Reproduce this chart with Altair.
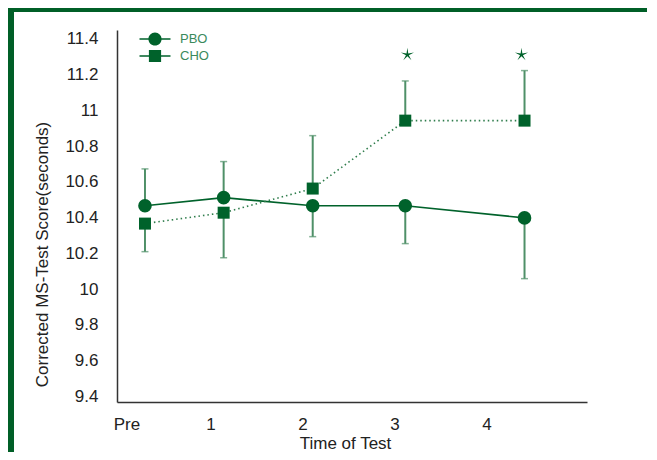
import math
import altair as alt
import pandas as pd

# ---- data ----
time_labels = ["Pre", "1", "2", "3", "4"]
label_pos = [0.087, 1, 2, 3, 4]
time_pos = [0.288, 1.143, 2.111, 3.117, 4.413]
pbo_mean = [10.467, 10.512, 10.467, 10.467, 10.399]
cho_mean = [10.367, 10.428, 10.563, 10.943, 10.943]
pbo_bar_end = [10.673, 10.714, 10.294, 10.255, 10.059]
cho_bar_end = [10.210, 10.176, 10.859, 11.165, 11.223]
star_pos = [3.14, 4.38]
star_val = [11.312, 11.312]
series_names = ["PBO", "CHO"]
y_ticks = [9.4, 9.6, 9.8, 10, 10.2, 10.4, 10.6, 10.8, 11, 11.2, 11.4]

rows = []
for i, t in enumerate(time_pos):
    rows.append({"t": t, "series": "PBO", "mean": pbo_mean[i], "end": pbo_bar_end[i]})
    rows.append({"t": t, "series": "CHO", "mean": cho_mean[i], "end": cho_bar_end[i]})
df = pd.DataFrame(rows)
stars = pd.DataFrame({"t": star_pos, "mean": star_val})

DARK = "#00622b"
BAR = "#4f9068"
FRAME = "#005f27"
FONT = "Liberation Sans"

x_scale = alt.Scale(domain=[-0.016, 5.092], nice=False, zero=False)
y_scale = alt.Scale(domain=[9.369, 11.45], nice=False, zero=False)

x_axis = alt.Axis(
    values=label_pos, format="d",
    labelExpr=f"datum.value < 0.5 ? '{time_labels[0]}' : datum.label",
    title="Time of Test", grid=False, ticks=False, tickSize=0,
    labelPadding=14, titleX=228, titleY=46, titleBaseline="alphabetic",
)
y_axis = alt.Axis(
    values=y_ticks, format="~g",
    title="Corrected MS-Test Score(seconds)", grid=False, ticks=False, tickSize=0,
    labelPadding=19, titleX=-75, titleY=224, titleBaseline="middle",
)


def X(field="t"):
    return alt.X(f"{field}:Q", scale=x_scale, axis=x_axis)


def Y(field="mean"):
    return alt.Y(f"{field}:Q", scale=y_scale, axis=y_axis)


base = alt.Chart(df)
one = pd.DataFrame({"k": [0]})

frame_top = alt.Chart(one).mark_rect(color=FRAME).encode(
    x=alt.value(-109), x2=alt.value(530), y=alt.value(-22), y2=alt.value(-18)
)
frame_left = alt.Chart(one).mark_rect(color=FRAME).encode(
    x=alt.value(-109), x2=alt.value(-103), y=alt.value(-22), y2=alt.value(422)
)

bars = base.mark_rule(color=BAR, strokeWidth=2).encode(x=X(), y=Y(), y2="end:Q")
caps = base.mark_tick(color=BAR, orient="horizontal", size=7, thickness=1.5).encode(
    x=X(), y=Y("end")
)

line_pbo = base.transform_filter("datum.series == 'PBO'").mark_line(
    color=DARK, strokeWidth=1.6
).encode(x=X(), y=Y())
line_cho = base.transform_filter("datum.series == 'CHO'").mark_line(
    color="#2f7d4c", strokeWidth=1.6, strokeDash=[1.5, 3]
).encode(x=X(), y=Y())

pts_pbo = base.transform_filter("datum.series == 'PBO'").mark_point(
    shape="circle", filled=True, color=DARK, size=185, opacity=1
).encode(x=X(), y=Y())
pts_cho = base.transform_filter("datum.series == 'CHO'").mark_point(
    shape="square", filled=True, color=DARK, size=144, opacity=1
).encode(x=X(), y=Y())

# thin five-pointed star glyph (shape only)
pts = []
for k in range(10):
    r = 1.0 if k % 2 == 0 else 0.22
    a = -math.pi / 2 + k * math.pi / 5
    pts.append(f"{r * math.cos(a):.3f},{r * math.sin(a):.3f}")
star_path = "M" + "L".join(pts) + "Z"

star_marks = alt.Chart(stars).mark_point(
    shape=star_path, filled=True, color=DARK, size=190, opacity=1
).encode(x=X(), y=Y())

circle_path = ("M-1.55,-0.075L-0.6,-0.075L-0.6,0.075L-1.55,0.075Z"
               "M0.6,-0.075L1.55,-0.075L1.55,0.075L0.6,0.075Z"
               "M0.66,0A0.66,0.66,0,1,1,-0.66,0A0.66,0.66,0,1,1,0.66,0Z")
square_path = ("M-1.55,-0.075L-0.6,-0.075L-0.6,0.075L-1.55,0.075Z"
               "M0.6,-0.075L1.55,-0.075L1.55,0.075L0.6,0.075Z"
               "M-0.61,-0.61L0.61,-0.61L0.61,0.61L-0.61,0.61Z")

legend_layer = base.transform_filter("false").mark_point(
    filled=True, color=DARK, opacity=1
).encode(
    x=X(), y=Y(),
    shape=alt.Shape(
        "series:N",
        scale=alt.Scale(domain=series_names, range=[circle_path, square_path]),
        legend=alt.Legend(
            orient="none", legendX=28, legendY=-1, title=None,
            symbolSize=400, symbolFillColor=DARK, symbolStrokeColor=DARK,
            symbolStrokeWidth=0, symbolOpacity=1,
            labelFont=FONT, labelFontSize=13, labelColor="#3b8a5c",
            labelOffset=15, padding=0, rowPadding=0,
        ),
    ),
)

chart = alt.layer(
    frame_top, frame_left, bars, caps, line_pbo, line_cho, pts_pbo, pts_cho,
    star_marks, legend_layer,
).properties(
    width=470, height=372,
    padding={"left": 109, "top": 22, "right": 62, "bottom": 50},
    autosize=alt.AutoSizeParams(type="none"),
    background="white",
).configure_view(stroke=None).configure_axis(
    domainColor="#333333", domainWidth=1.5,
    labelFont=FONT, labelFontSize=17, labelColor="#222222",
    titleFont=FONT, titleFontSize=17, titleFontWeight="normal", titleColor="#222222",
)

chart.save("out.html", embed_options={"renderer": "svg", "actions": False})
